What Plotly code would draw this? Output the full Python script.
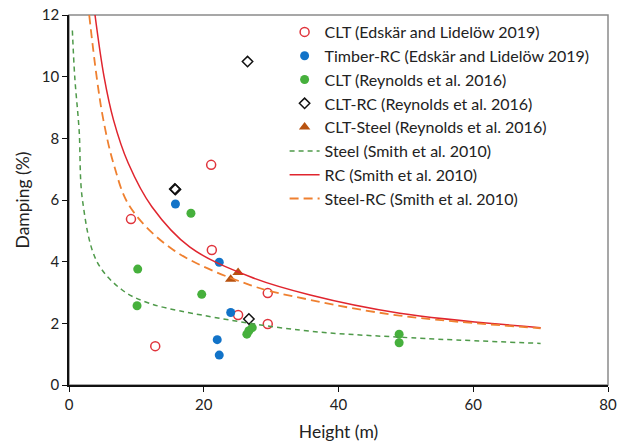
import plotly.graph_objects as go

# Scatter data (Height m, Damping %)
clt_eds_h = [21.1, 9.2, 21.2, 25.1, 29.5, 29.5, 12.8]
clt_eds_d = [7.14, 5.38, 4.38, 2.27, 2.98, 1.98, 1.26]

timber_rc_h = [15.8, 22.3, 24.0, 22.0, 22.3]
timber_rc_d = [5.87, 3.98, 2.35, 1.47, 0.97]

clt_rey_h = [18.1, 10.2, 10.1, 19.7, 26.4, 26.7, 27.2, 49.0, 49.0]
clt_rey_d = [5.57, 3.76, 2.57, 2.94, 1.65, 1.76, 1.86, 1.65, 1.37]

clt_rc_h = [26.5, 15.7, 15.8, 26.7]
clt_rc_d = [10.49, 6.36, 6.34, 2.14]

clt_steel_h = [25.1, 24.0]
clt_steel_d = [3.65, 3.43]

# Curves (Smith et al. 2010)
steel_h = [0.5, 0.85, 1.5, 2.0, 4.15, 7.9, 11.8, 18.2, 34.3, 49.1, 70.0]
steel_d = [11.5, 10.0, 8.27, 6.0, 4.0, 3.08, 2.66, 2.33, 1.78, 1.55, 1.35]

rc_h = [3.86, 5.2, 6.6, 8.8, 12.3, 17.95, 26.9, 35.8, 49.1, 70.0]
rc_d = [12.0, 10.0, 8.6, 7.19, 5.78, 4.47, 3.51, 2.92, 2.33, 1.86]

steelrc_h = [3.0, 4.1, 5.1, 6.6, 9.05, 15.5, 26.9, 35.8, 49.1, 70.0]
steelrc_d = [12.0, 10.0, 8.6, 7.19, 5.78, 4.38, 3.24, 2.76, 2.25, 1.84]

FONT = "Lato"

fig = go.Figure()
fig.add_trace(go.Scatter(x=clt_eds_h, y=clt_eds_d, mode="markers",
    name="CLT (Edskär and Lidelöw 2019)", legendgroup="a",
    marker=dict(symbol="circle-open", size=9, color="#e0343c", line=dict(width=1.5))))
fig.add_trace(go.Scatter(x=timber_rc_h, y=timber_rc_d, mode="markers",
    name="Timber-RC (Edskär and Lidelöw 2019)", legendgroup="b",
    marker=dict(symbol="circle", size=9, color="#1273c8")))
fig.add_trace(go.Scatter(x=clt_rey_h, y=clt_rey_d, mode="markers",
    name="CLT (Reynolds et al. 2016)", legendgroup="c",
    marker=dict(symbol="circle", size=9, color="#46b03c")))
fig.add_trace(go.Scatter(x=clt_rc_h, y=clt_rc_d, mode="markers",
    name="CLT-RC (Reynolds et al. 2016)", legendgroup="d",
    marker=dict(symbol="diamond-open", size=8, color="#111111", line=dict(width=1.5))))
fig.add_trace(go.Scatter(x=clt_steel_h, y=clt_steel_d, mode="markers",
    name="CLT-Steel (Reynolds et al. 2016)", legendgroup="e",
    marker=dict(symbol="triangle-up", size=10, color="#b8520f")))
fig.add_trace(go.Scatter(x=steel_h, y=steel_d, mode="lines", line_shape="spline",
    name="Steel (Smith et al. 2010)", legendgroup="f",
    line=dict(color="#4f9a4a", width=1.5, dash="5px,4px")))
fig.add_trace(go.Scatter(x=rc_h, y=rc_d, mode="lines", line_shape="spline",
    name="RC (Smith et al. 2010)", legendgroup="g",
    line=dict(color="#e0252e", width=1.5)))
fig.add_trace(go.Scatter(x=steelrc_h, y=steelrc_d, mode="lines", line_shape="spline",
    name="Steel-RC (Smith et al. 2010)", legendgroup="h",
    line=dict(color="#ef8030", width=1.8, dash="9px,5px")))

fig.update_layout(
    width=617, height=448,
    margin=dict(l=69, r=9, t=15, b=63),
    paper_bgcolor="white", plot_bgcolor="white",
    font=dict(family=FONT, size=15, color="#222222"),
    showlegend=True,
    legend=dict(x=0.40, y=1.0, xanchor="left", yanchor="top",
                bgcolor="rgba(0,0,0,0)", borderwidth=0,
                tracegroupgap=0, font=dict(size=16, family=FONT, color="#222222")),
    shapes=[dict(type="rect", xref="paper", yref="paper", x0=0, y0=0, x1=1, y1=1,
                 line=dict(color="#8a8a8a", width=1.5), layer="below")],
)
fig.update_xaxes(range=[0, 80], tickvals=[0, 20, 40, 60, 80], showgrid=False, zeroline=False,
                 automargin=False,
                 showline=True, linecolor="#111111", linewidth=1.5,
                 ticks="outside", ticklen=5, tickcolor="#111111",
                 tickfont=dict(size=15, family=FONT),
                 title=dict(text="Height (m)", font=dict(size=17.5, family=FONT), standoff=14))
fig.update_yaxes(range=[0, 12], tickvals=[0, 2, 4, 6, 8, 10, 12], showgrid=False, zeroline=False,
                 automargin=False,
                 showline=True, linecolor="#111111", linewidth=1.5,
                 ticks="outside", ticklen=5, tickcolor="#111111",
                 tickfont=dict(size=15, family=FONT),
                 title=dict(text="Damping (%)", font=dict(size=17.5, family=FONT), standoff=8))

fig.write_html("out.html")
